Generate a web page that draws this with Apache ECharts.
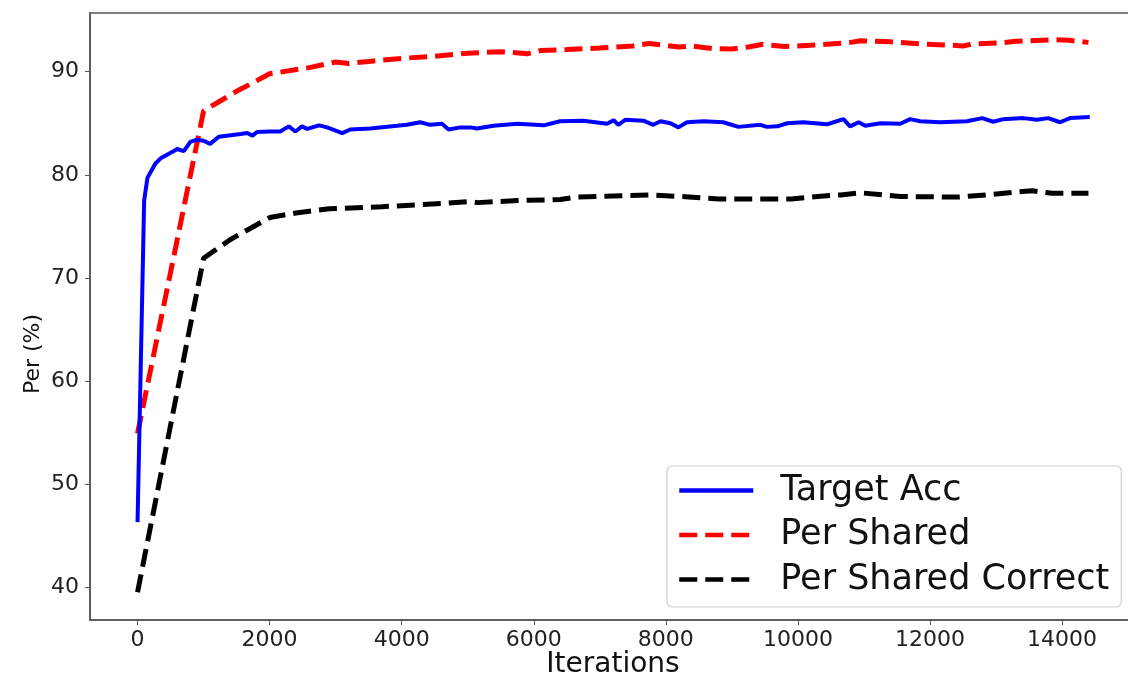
<!DOCTYPE html>
<html>
<head>
<meta charset="utf-8">
<script src="https://cdn.jsdelivr.net/npm/echarts@6/dist/echarts.min.js"></script>
<style>html,body{margin:0;padding:0;background:#fff;}#c{width:1128px;height:675px;}</style>
</head>
<body>
<div id="c"></div>
<script>
var seriesNames = ['Target Acc', 'Per Shared', 'Per Shared Correct'];
var xTicks = [0, 2000, 4000, 6000, 8000, 10000, 12000, 14000];
var yTicks = [40, 50, 60, 70, 80, 90];

var accIters = [0,100,150,270,350,550,600,700,800,900,1000,1100,1230,1560,1660,1740,1810,2000,2160,2290,2390,2490,2570,2750,2870,3100,3220,3520,3930,4080,4280,4430,4610,4710,4890,5040,5140,5390,5750,6150,6400,6750,7110,7210,7280,7390,7660,7810,7920,8070,8190,8320,8570,8870,9100,9430,9530,9690,9840,10080,10440,10540,10690,10790,10920,11020,11250,11550,11700,11850,12150,12560,12790,12960,13110,13410,13620,13790,13970,14120,14420];
var accVals  = [46.3,77.5,79.7,81.1,81.6,82.3,82.5,82.3,83.2,83.4,83.3,83.0,83.7,83.95,84.05,83.8,84.15,84.2,84.2,84.7,84.2,84.7,84.45,84.8,84.6,84.05,84.4,84.5,84.75,84.85,85.1,84.85,84.95,84.4,84.6,84.6,84.5,84.75,84.95,84.8,85.2,85.25,84.95,85.3,84.85,85.35,85.25,84.85,85.2,85.0,84.6,85.1,85.2,85.1,84.65,84.85,84.65,84.7,85.0,85.1,84.9,85.1,85.4,84.7,85.1,84.75,85.0,84.95,85.4,85.2,85.1,85.2,85.5,85.15,85.4,85.5,85.35,85.5,85.1,85.5,85.6];

var sharedIters = [0,1000,1500,2000,2600,3000,3200,3500,4000,4500,5000,5500,5900,6100,6500,7000,7500,7750,8200,8400,8700,9000,9250,9450,9800,10300,10750,10950,11400,11850,12250,12500,12650,13050,13300,13900,14100,14400];
var sharedVals  = [54.9,86.2,88.1,89.8,90.4,90.95,90.8,91.0,91.3,91.5,91.8,91.95,91.75,92.05,92.15,92.3,92.5,92.75,92.4,92.5,92.25,92.2,92.4,92.65,92.45,92.6,92.8,93.0,92.9,92.7,92.6,92.5,92.7,92.8,92.95,93.1,93.05,92.85];

var correctIters = [0,1000,1400,2000,2400,2900,3700,4700,5000,5150,5750,6400,6650,7750,8350,8800,9500,9900,10300,10650,10950,11550,12200,12450,12850,13250,13550,13850,14400];
var correctVals  = [39.5,71.9,73.7,75.85,76.3,76.7,76.9,77.25,77.4,77.3,77.5,77.6,77.85,78.05,77.85,77.65,77.65,77.65,77.9,78.05,78.25,77.9,77.85,77.85,78.05,78.3,78.45,78.2,78.2];

function pairs(xs, ys) { return xs.map(function (x, i) { return [x, ys[i]]; }); }

var FONT = 'DejaVu Sans';
var chart = echarts.init(document.getElementById('c'), null, {renderer: 'canvas'});
chart.setOption({
  animation: false,
  backgroundColor: '#ffffff',
  textStyle: {fontFamily: FONT},
  grid: {left: 90, top: 13, width: 1046, height: 607, show: true, borderColor: '#555', borderWidth: 1.5, outerBoundsMode: 'none', containLabel: false},
  xAxis: {
    type: 'value', min: -720, max: 15120,
    name: 'Iterations', nameLocation: 'middle', nameGap: 31, nameMoveOverlap: false,
    nameTextStyle: {fontFamily: FONT, fontSize: 28, color: '#111'},
    axisLine: {show: true, onZero: false, lineStyle: {color: '#555', width: 1.5}},
    axisTick: {show: true, length: 5, inside: false, customValues: xTicks, lineStyle: {color: '#555', width: 1}},
    axisLabel: {customValues: xTicks, margin: 9, fontFamily: FONT, fontSize: 22, color: '#222',
                formatter: function (v) { return String(v); }},
    splitLine: {show: false}
  },
  yAxis: {
    type: 'value', min: 36.8, max: 95.7,
    axisLine: {show: true, onZero: false, lineStyle: {color: '#555', width: 1.5}},
    axisTick: {show: true, length: 5, inside: false, customValues: yTicks, lineStyle: {color: '#555', width: 1}},
    axisLabel: {customValues: yTicks, margin: 11, fontFamily: FONT, fontSize: 22, color: '#222',
                formatter: function (v) { return String(v); }},
    splitLine: {show: false}
  },
  graphic: [{
    type: 'text', x: 33, y: 354, rotation: Math.PI / 2,
    style: {text: 'Per (%)', font: '22px "DejaVu Sans"', fill: '#111', textAlign: 'center', textVerticalAlign: 'middle'}
  }],
  legend: {
    left: 667, top: 466, orient: 'vertical',
    data: seriesNames,
    backgroundColor: '#fff', borderColor: '#d0d0d0', borderWidth: 1.2, borderRadius: 5,
    padding: [7, 12, 10, 10],
    itemWidth: 74, itemHeight: 14, itemGap: 9.5,
    itemStyle: {color: 'rgba(0,0,0,0)', borderWidth: 0, opacity: 0},
    lineStyle: {width: 4.5},
    textStyle: {fontFamily: FONT, fontSize: 35, color: '#111', lineHeight: 34, padding: [0, 0, 0, 22]}
  },
  series: [
    {name: seriesNames[0], type: 'line', data: pairs(accIters, accVals), showSymbol: false, symbol: 'none',
     lineStyle: {color: '#0000ff', width: 4}, itemStyle: {color: '#0000ff'}, z: 3},
    {name: seriesNames[1], type: 'line', data: pairs(sharedIters, sharedVals), showSymbol: false, symbol: 'none',
     lineStyle: {color: '#ff0000', width: 5, type: [18, 8]}, itemStyle: {color: '#ff0000'}, z: 2},
    {name: seriesNames[2], type: 'line', data: pairs(correctIters, correctVals), showSymbol: false, symbol: 'none',
     lineStyle: {color: '#000000', width: 5, type: [18, 8]}, itemStyle: {color: '#000000'}, z: 2}
  ]
});
</script>
</body>
</html>
